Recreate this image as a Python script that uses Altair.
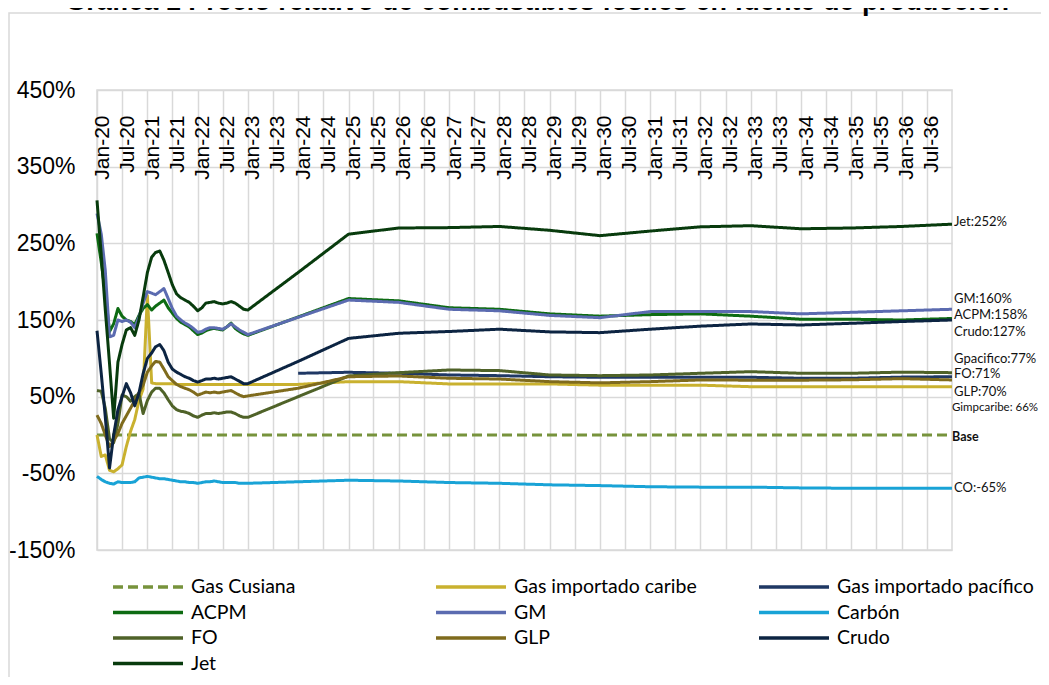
import altair as alt
import pandas as pd

# ---------------- data ----------------
SERIES = ["Gas Cusiana", "Gas importado caribe", "Gas importado pacífico", "ACPM", "GM",
          "Carbón", "FO", "GLP", "Crudo", "Jet"]
COLORS = ["#77933c", "#c9b12f", "#1f3864", "#0d6b12", "#5b6bb0",
          "#19a3d6", "#4f6228", "#7f6b1d", "#0c2442", "#083b0d"]

# monthly categories Jan-20 .. Jan-23, then yearly Jan-24 .. Jan-37
EARLY_DATES = [f"{2020 + i // 12}-{i % 12 + 1:02d}-01" for i in range(37)]
LATE_DATES = [f"{y}-01-01" for y in range(2024, 2038)]

cusiana_dates = ["2020-01-01", "2037-01-01"]
cusiana = [0, 0]

caribe_early = [0, -28, -26, -46, -48, -44, -39, -15, 5, 20, 45, 60, 182,
                68, 67, 67, 67, 67, 67,
                66, 66, 66, 66, 66, 66, 66, 66, 66, 66, 66, 66, 66, 66, 66, 66, 66, 66]
caribe_late = [66, 69.6, 69.6, 66.6, 66.6, 66.6, 65, 65, 65, 63, 63, 63, 63, 63]

pacifico_late = [80.5, 81.8, 80.5, 78.3, 77.4, 76, 75.3, 75.3, 75.3, 75.3, 74, 74, 75.5, 76]

acpm_early = [263, 225, 185, 135, 145, 165, 155, 150, 148, 144,
              156, 165, 170, 163, 168, 172, 176, 166, 159, 152,
              147, 144, 141, 136, 131, 133, 136, 138, 139, 138,
              137, 141, 146, 139, 135, 132, 130]
acpm_late = [154, 178, 175, 166, 164, 158, 155, 157, 158, 155, 151, 151, 150, 152]

gm_early = [289, 262, 215, 128, 130, 150, 148, 150, 147, 140,
            154, 172, 187, 185, 183, 187, 191, 178, 165, 155,
            150, 146, 143, 139, 134, 135, 138, 140, 140, 139,
            138, 141, 145, 141, 137, 134, 131]
gm_late = [153.5, 176, 173, 164, 162, 156, 153, 161, 161, 161, 158, 160, 162, 164]

carbon_early = [-54, -58, -61, -63, -64, -61, -62, -62, -62, -61,
                -56, -55, -54, -55, -56, -57, -57, -58, -59, -60,
                -61, -61, -62, -62, -63, -62, -61, -61, -60, -61,
                -62, -62, -62, -62, -63, -63, -63]
carbon_late = [-61, -59, -60, -62, -63, -65, -66, -67.5, -68, -68, -69, -69.5, -69.5, -69.5]

fo_early = [58, 57, 35, -5, -10, 15, 52, 50, 44, 50,
            54, 28, 45, 56, 61, 61, 55, 46, 38, 33,
            31, 30, 28, 25, 23, 26, 28, 28, 29, 28,
            29, 30, 30, 28, 25, 23, 23]
fo_late = [50, 77, 81.3, 84.8, 84, 78.3, 77.4, 78.3, 80.5, 82.6, 80.5, 80.5, 82, 81.3]

glp_early = [26, 15, 0, -15, -8, 2, 15, 25, 35, 45,
             55, 65, 82, 90, 96, 95, 86, 76, 71, 66,
             63, 61, 59, 56, 52, 54, 56, 55, 56, 55,
             56, 57, 58, 55, 52, 50, 51]
glp_late = [61, 76, 77, 74, 73, 69.6, 68, 69.6, 71.8, 71.5, 71.5, 72, 73.5, 71.8]

crudo_early = [136, 80, 24, -43, 0, 33, 50, 67, 55, 38,
               55, 80, 100, 107, 115, 118, 110, 95, 86, 82,
               79, 76, 74, 71, 69, 71, 73, 73, 74, 73,
               74, 75, 76, 73, 70, 67, 67]
crudo_late = [96, 126, 132.7, 135, 138, 134.5, 133.5, 138, 142, 144.8, 143.5, 145.7, 148, 150]

jet_early = [306, 235, 164, 93, 22, 95, 118, 137, 140, 130,
             150, 180, 212, 232, 238, 240, 228, 212, 196, 184,
             179, 176, 173, 168, 162, 166, 172, 173, 174, 172,
             171, 172, 174, 172, 168, 164, 163]
jet_late = [212, 262, 270, 270.5, 272, 267, 260, 266, 271.5, 273, 269, 270, 272, 275]

SERIES_POINTS = {
    "Gas Cusiana": (cusiana_dates, cusiana),
    "Gas importado caribe": (EARLY_DATES + LATE_DATES, caribe_early + caribe_late),
    "Gas importado pacífico": (LATE_DATES, pacifico_late),
    "ACPM": (EARLY_DATES + LATE_DATES, acpm_early + acpm_late),
    "GM": (EARLY_DATES + LATE_DATES, gm_early + gm_late),
    "Carbón": (EARLY_DATES + LATE_DATES, carbon_early + carbon_late),
    "FO": (EARLY_DATES + LATE_DATES, fo_early + fo_late),
    "GLP": (EARLY_DATES + LATE_DATES, glp_early + glp_late),
    "Crudo": (EARLY_DATES + LATE_DATES, crudo_early + crudo_late),
    "Jet": (EARLY_DATES + LATE_DATES, jet_early + jet_late),
}

LABEL_TEXT = ["Jet:252%", "GM:160%", "ACPM:158%", "Crudo:127%", "Gpacifico:77%",
              "FO:71%", "GLP:70%", "CO:-65%"]
LABEL_Y = [278, 177, 157, 135, 99, 79.5, 56.5, -69]
SMALL_TEXT = ["Gimpcaribe: 66%"]
SMALL_Y = [35]
BASE_TEXT = ["Base"]
BASE_Y = [-2]

Y_TICKS = [-150, -50, 50, 150, 250, 350, 450]
X_TICK_DATES = [f"{2020 + i // 2}-{1 + 6 * (i % 2):02d}-01" for i in range(34)]  # Jan-20 .. Jul-36
TITLE = "Gráfica 1 Precio relativo de combustibles fósiles en fuente de producción"

# ---------------- tables ----------------
rows = []
for name in SERIES:
    dates, vals = SERIES_POINTS[name]
    for d, v in zip(dates, vals):
        rows.append({"serie": name, "date": d, "value": v})
df = pd.DataFrame(rows)

END = "2037-01-01"
labels_df = pd.DataFrame({"text": LABEL_TEXT, "value": LABEL_Y, "date": [END] * len(LABEL_TEXT)})
small_df = pd.DataFrame({"text": SMALL_TEXT, "value": SMALL_Y, "date": [END]})
base_df = pd.DataFrame({"text": BASE_TEXT, "value": BASE_Y, "date": [END]})


def ms(d):
    return int(pd.Timestamp(d, tz="UTC").value // 10**6)


DASHES = [[10, 5]] + [[1, 0]] * (len(SERIES) - 1)

x_scale = alt.Scale(type="utc", domain=[ms("2020-01-01"), ms("2037-01-01")])
y_scale = alt.Scale(domain=[-150, 450], nice=False, zero=False)

x_axis = alt.Axis(orient="top", values=[ms(d) for d in X_TICK_DATES],
                  labelExpr="utcFormat(datum.value, '%b-%y')",
                  labelAngle=270, labelAlign="right", labelBaseline="middle",
                  labelPadding=-25, labelOffset=5, labelFontSize=21, labelFont="Liberation Sans",
                  labelColor="#000000", ticks=False, domain=False, grid=True,
                  gridColor="#d9d9d9", gridWidth=1.5, labelOverlap=False, labelFlush=False, title=None)
y_axis = alt.Axis(values=Y_TICKS, labelExpr="datum.value + '%'", labelFontSize=23,
                  labelFont="Liberation Sans", labelColor="#000000", labelPadding=22,
                  ticks=False, domain=False, grid=True, gridColor="#d9d9d9", gridWidth=1.5,
                  labelFlush=False, title=None)

leg = alt.Legend(orient="none", legendX=14, legendY=487, columns=3, direction="horizontal",
                 title=None, symbolType="stroke", symbolSize=4900, symbolStrokeWidth=3.5,
                 labelFont="Lato", labelFontSize=19.5, labelColor="#000000", labelOffset=6,
                 columnPadding=46, rowPadding=5.5, clipHeight=20, gridAlign="all",
                 padding=0, labelLimit=400)

X = alt.X("date:T", scale=x_scale, axis=x_axis)
Y = alt.Y("value:Q", scale=y_scale, axis=y_axis)

lines = alt.Chart(df).mark_line(strokeWidth=3, strokeJoin="round").encode(
    x=X, y=Y,
    color=alt.Color("serie:N", scale=alt.Scale(domain=SERIES, range=COLORS), legend=leg),
    strokeDash=alt.StrokeDash("serie:N", scale=alt.Scale(domain=SERIES, range=DASHES), legend=leg),
)

end_labels = alt.Chart(labels_df).mark_text(align="left", baseline="middle", dx=2,
                                            font="Lato", fontSize=13, color="#111111").encode(
    x=X, y=Y, text="text:N")

small_label = alt.Chart(small_df).mark_text(align="left", baseline="middle", dx=0,
                                            font="Lato", fontSize=11.5, color="#111111").encode(
    x=X, y=Y, text="text:N")

base_label = alt.Chart(base_df).mark_text(align="left", baseline="middle", dx=0,
                                          font="Lato", fontSize=12.5, fontWeight="bold",
                                          color="#111111").encode(
    x=X, y=Y, text="text:N")

frame = alt.Chart(pd.DataFrame({"a": [0]})).mark_rect(fillOpacity=0, stroke="#d9d9d9",
                                                       strokeWidth=1.5).encode(
    x=alt.value(-88), y=alt.value(-77), x2=alt.value(1500), y2=alt.value(1500))

title = alt.Chart(pd.DataFrame({"t": [TITLE]})).mark_text(
    font="Liberation Sans", fontWeight="bold", fontSize=27, align="center",
    baseline="alphabetic", color="#000000").encode(
    x=alt.value(440), y=alt.value(-80), text="t:N")

chart = alt.layer(frame, title, lines, end_labels, small_label, base_label).properties(
    width=855, height=460,
    autosize=alt.AutoSizeParams(type="none"),
    padding={"left": 89, "top": 82, "right": 89, "bottom": 127},
    background="white",
).configure_view(stroke="#d9d9d9", strokeWidth=1.5)

chart.save("out.html", embed_options={"renderer": "svg", "actions": False})
